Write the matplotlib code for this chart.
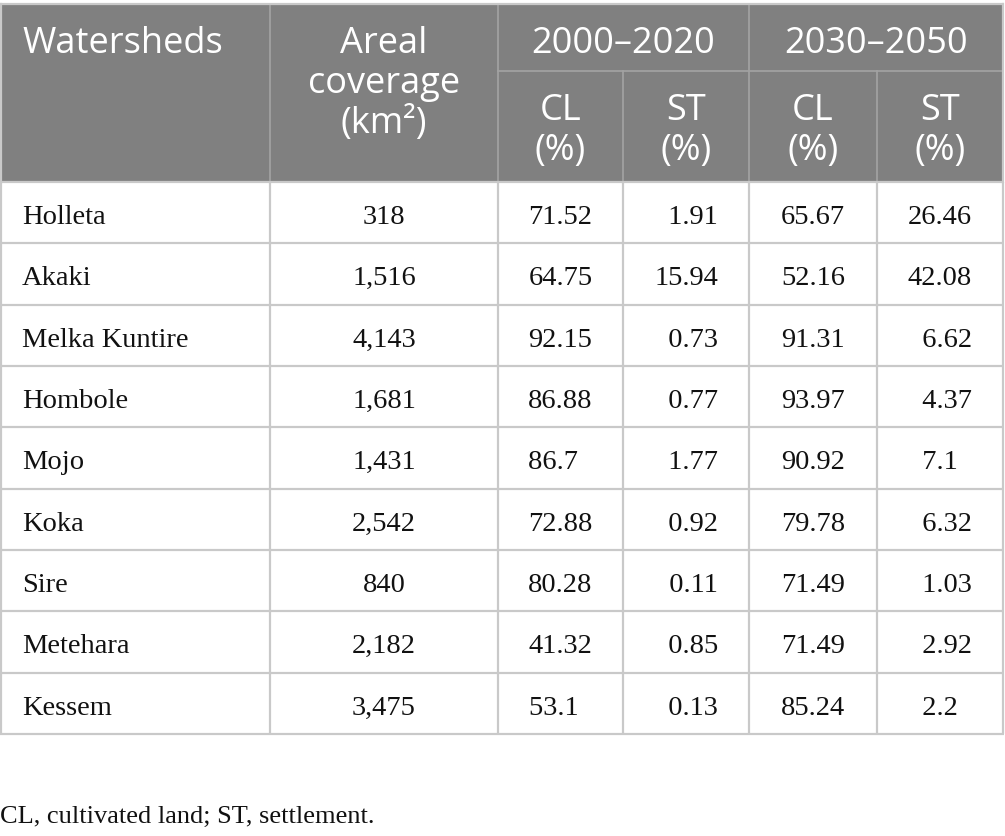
import matplotlib
matplotlib.use("Agg")
import matplotlib.pyplot as plt
from matplotlib.patches import Rectangle

# ---- data ----
watersheds = ["Holleta", "Akaki", "Melka Kuntire", "Hombole", "Mojo",
              "Koka", "Sire", "Metehara", "Kessem"]
areal_km2 = ["318", "1,516", "4,143", "1,681", "1,431", "2,542", "840", "2,182", "3,475"]
cl_2000_2020 = ["71.52", "64.75", "92.15", "86.88", "86.7", "72.88", "80.28", "41.32", "53.1"]
st_2000_2020 = ["1.91", "15.94", "0.73", "0.77", "1.77", "0.92", "0.11", "0.85", "0.13"]
cl_2030_2050 = ["65.67", "52.16", "91.31", "93.97", "90.92", "79.78", "71.49", "71.49", "85.24"]
st_2030_2050 = ["26.46", "42.08", "6.62", "4.37", "7.1", "6.32", "1.03", "2.92", "2.2"]
header_top = ["Watersheds", "Areal\ncoverage\n(km²)", "2000–2020", "2030–2050"]
sub_headers = ["CL\n(%)", "ST\n(%)", "CL\n(%)", "ST\n(%)"]
footnote = "CL, cultivated land; ST, settlement."

# ---- layout ----
W, H = 1005, 837
fig = plt.figure(figsize=(W / 100, H / 100), dpi=100)
ax = fig.add_axes([0, 0, 1, 1])
ax.set_xlim(0, W)
ax.set_ylim(H, 0)
ax.axis("off")

col_x = [1, 270, 498, 623, 749, 877, 1003]
head_top, head_mid, head_bot = 4.5, 72, 183
body_bot = 735
n = len(watersheds)
row_h = (body_bot - head_bot) / n

hdr_bg = "#808080"
grid_c = "#c9c9c9"
hdr_line = "#a3a3a3"
sans = ["Open Sans", "DejaVu Sans"]
serif = ["Liberation Serif", "DejaVu Serif"]
FIG = "\u2007"

# header background
ax.add_patch(Rectangle((col_x[0], head_top), col_x[-1] - col_x[0], head_bot - head_top,
                       facecolor=hdr_bg, edgecolor="none", zorder=1))
# top border
ax.plot([0, W - 1], [head_top, head_top], color=grid_c, lw=1.6, zorder=3, solid_capstyle="butt")
# header inner lines
for x in [270, 498, 749]:
    ax.plot([x, x], [head_top, head_bot], color=hdr_line, lw=1.2, zorder=2)
for x in [623, 877]:
    ax.plot([x, x], [head_mid, head_bot], color=hdr_line, lw=1.2, zorder=2)
ax.plot([498, col_x[-1]], [head_mid, head_mid], color=hdr_line, lw=1.2, zorder=2)
for x in [col_x[0], col_x[-1]]:
    ax.plot([x, x], [head_top, head_bot], color=grid_c, lw=1.6, zorder=3)

# body grid
for i in range(n + 1):
    y = head_bot + i * row_h
    ax.plot([0, W - 1], [y, y], color=grid_c, lw=1.6, zorder=3, solid_capstyle="butt")
for x in col_x:
    ax.plot([x, x], [head_bot, body_bot], color=grid_c, lw=1.6, zorder=3, solid_capstyle="butt")

# header text
hfs = 26
ax.text(22, 53, header_top[0], ha="left", va="baseline", color="white",
        fontsize=hfs, family=sans, zorder=4)
for j, line in enumerate(header_top[1].split("\n")):
    ax.text((col_x[1] + col_x[2]) / 2, 53 + 40 * j, line, ha="center", va="baseline",
            color="white", fontsize=hfs, family=sans, zorder=4)
ax.text((col_x[2] + col_x[4]) / 2, 53, header_top[2], ha="center", va="baseline",
        color="white", fontsize=hfs, family=sans, zorder=4)
ax.text((col_x[4] + col_x[6]) / 2, 53, header_top[3], ha="center", va="baseline",
        color="white", fontsize=hfs, family=sans, zorder=4)
for k, sh in enumerate(sub_headers):
    cx = (col_x[2 + k] + col_x[3 + k]) / 2
    for j, line in enumerate(sh.split("\n")):
        ax.text(cx, 120 + 40 * j, line, ha="center", va="baseline",
                color="white", fontsize=hfs, family=sans, zorder=4)


def pad(s):
    a, b = s.split(".")
    return FIG * (2 - len(a)) + a + "." + b + FIG * (2 - len(b))


bfs = 20.5
cols = [areal_km2, cl_2000_2020, st_2000_2020, cl_2030_2050, st_2030_2050]
for i in range(n):
    yb = head_bot + i * row_h + 41
    ax.text(22, yb, watersheds[i], ha="left", va="baseline", fontsize=bfs,
            family=serif, color="#111111", zorder=4)
    for k, colv in enumerate(cols):
        cx = (col_x[1 + k] + col_x[2 + k]) / 2
        txt = colv[i] if k == 0 else pad(colv[i])
        ax.text(cx, yb, txt, ha="center", va="baseline", fontsize=bfs,
                family=serif, color="#111111", zorder=4)

ax.text(0, 823, footnote, ha="left", va="baseline", fontsize=19, family=serif,
        color="#111111", zorder=4)

fig.savefig("out.png", dpi=100, facecolor="white")
